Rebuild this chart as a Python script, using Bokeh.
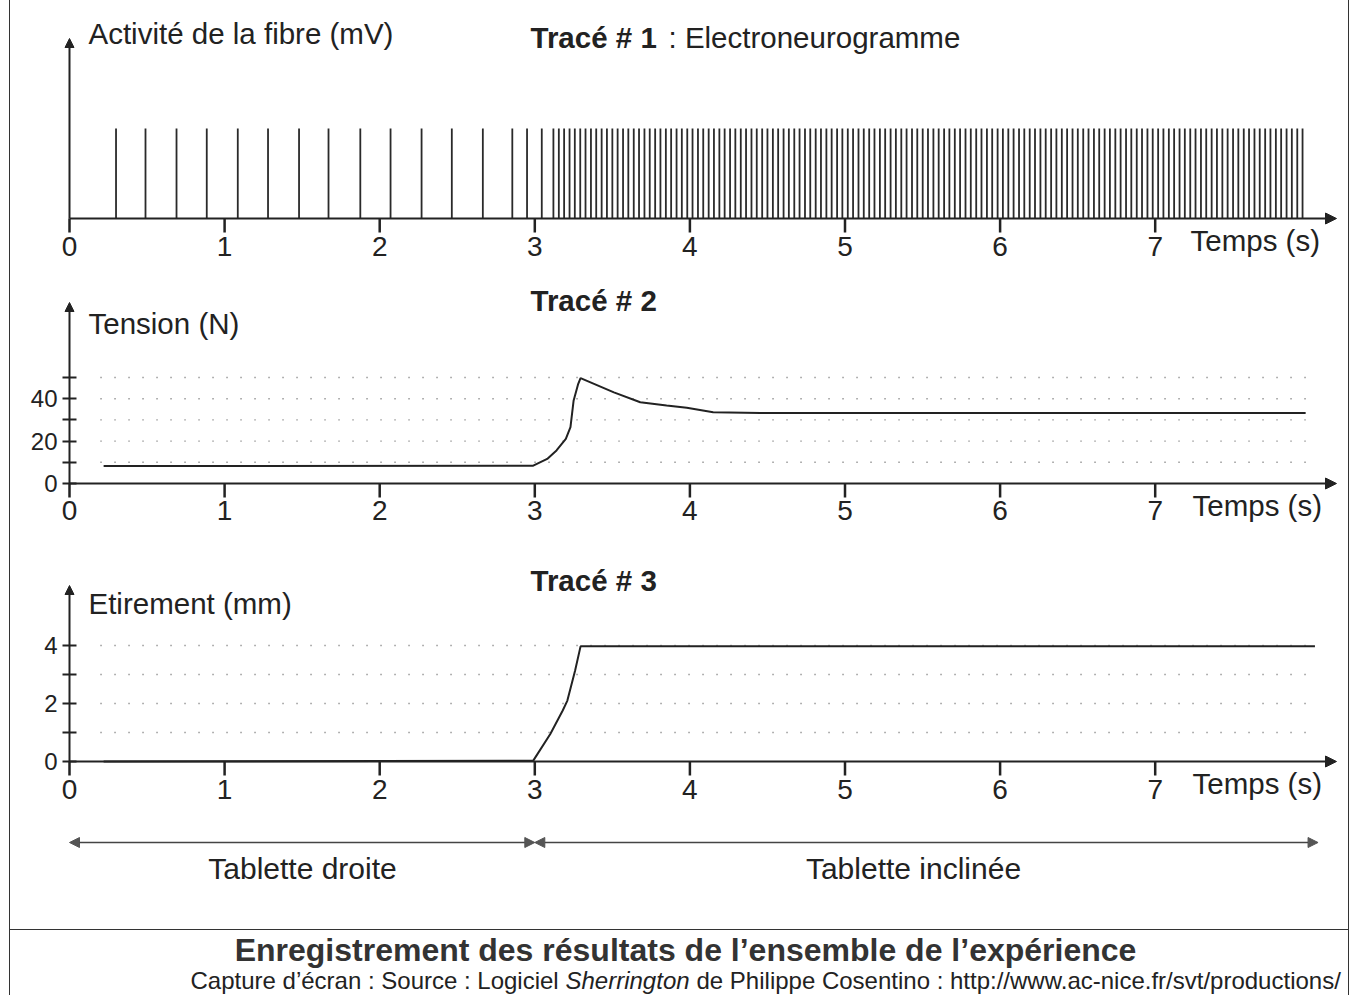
from bokeh.plotting import figure
from bokeh.models import Range1d, FixedTicker, Arrow, NormalHead, Label
from bokeh.layouts import column
from bokeh.embed import file_html
from bokeh.resources import INLINE

# ---------------- data ----------------
# Tracé 1 : spike times (s) of the fibre
spike_times_rest = [0.30, 0.49, 0.69, 0.885, 1.085, 1.28, 1.48, 1.67, 1.875,
                    2.07, 2.27, 2.465, 2.665, 2.855, 2.95, 3.045]
spike_times_stretch = [
    3.120, 3.155, 3.189, 3.224, 3.258, 3.293, 3.327, 3.362, 3.396, 3.431,
    3.465, 3.500, 3.534, 3.569, 3.603, 3.638, 3.672, 3.707, 3.741, 3.776,
    3.810, 3.845, 3.879, 3.914, 3.948, 3.983, 4.017, 4.052, 4.086, 4.121,
    4.155, 4.190, 4.224, 4.259, 4.293, 4.328, 4.362, 4.397, 4.431, 4.466,
    4.500, 4.535, 4.569, 4.604, 4.638, 4.673, 4.707, 4.742, 4.776, 4.811,
    4.845, 4.880, 4.914, 4.949, 4.983, 5.018, 5.052, 5.087, 5.121, 5.156,
    5.190, 5.225, 5.259, 5.294, 5.328, 5.363, 5.397, 5.432, 5.466, 5.501,
    5.535, 5.570, 5.604, 5.639, 5.673, 5.708, 5.742, 5.777, 5.811, 5.846,
    5.880, 5.915, 5.949, 5.984, 6.018, 6.053, 6.087, 6.122, 6.156, 6.191,
    6.225, 6.260, 6.294, 6.329, 6.363, 6.398, 6.432, 6.467, 6.501, 6.536,
    6.570, 6.605, 6.639, 6.674, 6.708, 6.743, 6.777, 6.812, 6.846, 6.881,
    6.915, 6.950, 6.984, 7.019, 7.053, 7.088, 7.122, 7.157, 7.191, 7.226,
    7.260, 7.295, 7.329, 7.364, 7.398, 7.433, 7.467, 7.502, 7.536, 7.571,
    7.605, 7.640, 7.674, 7.709, 7.743, 7.778, 7.812, 7.847, 7.881, 7.916,
    7.950]
spike_amplitude = 1.0

# Tracé 2 : muscle tension (N)
tension_t = [0.22, 2.99, 3.08, 3.14, 3.20, 3.23, 3.25, 3.28, 3.295, 3.51,
             3.68, 3.85, 3.98, 4.15, 4.455, 5.0, 6.0, 7.0, 7.97]
tension_n = [8.2, 8.4, 11.6, 15.6, 21.0, 26.6, 39.0, 47.0, 49.7, 43.0,
             38.3, 36.8, 35.7, 33.6, 33.2, 33.2, 33.2, 33.2, 33.2]

# Tracé 3 : stretch (mm)
stretch_t = [0.22, 2.99, 3.10, 3.18, 3.21, 3.26, 3.295, 5.0, 8.03]
stretch_mm = [0.0, 0.03, 0.95, 1.76, 2.1, 3.14, 3.97, 3.97, 3.97]

time_ticks = [0, 1, 2, 3, 4, 5, 6, 7]
tension_ticks = [0, 10, 20, 30, 40, 50]
tension_tick_text = {0: "0", 10: "", 20: "20", 30: "", 40: "40", 50: ""}
tension_grid = [10, 20, 30, 40, 50]
stretch_ticks = [0, 1, 2, 3, 4]
stretch_tick_text = {0: "0", 1: "", 2: "2", 3: "", 4: "4"}
stretch_grid = [1, 2, 3, 4]
grid_span_t = [0.2, 7.97]

phase_start = [0.0, 3.0]
phase_end = [3.0, 8.05]
phase_names = ["Tablette droite", "Tablette inclinée"]

# ---------------- layout helpers ----------------
INK = "#222222"
FONT = "Liberation Sans"
S = 155.1          # px per second
X0 = 69.0          # page x of t = 0
OFF_X = 10         # page x where the figures start (after left border)
W = 1338
FRAME_L, FRAME_R = 62, 1348
ARROW_TIP_X = 1336
TICK = 14
TXT = "29.5px"


def tx(ref_x):
    return (ref_x - X0) / S


def head(size=11, color=INK):
    return NormalHead(size=size, fill_color=color, line_color=color, line_width=1)


def base_fig(height, x_range, y_range, mb_bottom=0, with_y_axis=False, with_x_axis=False):
    p = figure(width=W, height=height, x_range=x_range, y_range=y_range,
               output_backend="svg", toolbar_location=None,
               min_border_left=FRAME_L - OFF_X, min_border_right=W - (FRAME_R - OFF_X),
               min_border_top=0, min_border_bottom=mb_bottom,
               x_axis_location="below" if with_x_axis else None,
               y_axis_location="left" if with_y_axis else None)
    p.grid.visible = False
    p.outline_line_color = None
    return p


def trace_fig(top, bottom, axis_y, scale, frame_bottom, label_top, with_y_axis):
    p = base_fig(bottom - top, Range1d(tx(FRAME_L), tx(FRAME_R)),
                 Range1d(-(frame_bottom - axis_y) / scale, (axis_y - top) / scale),
                 mb_bottom=bottom - frame_bottom, with_y_axis=with_y_axis, with_x_axis=True)
    ax = p.xaxis[0]
    ax.ticker = FixedTicker(ticks=time_ticks)
    ax.axis_line_color = None
    ax.major_tick_line_color = None
    ax.minor_tick_line_color = None
    ax.major_tick_in = 0
    ax.major_tick_out = 0
    ax.major_label_text_font = FONT
    ax.major_label_text_font_size = "28px"
    ax.major_label_text_color = INK
    ax.major_label_standoff = label_top - frame_bottom
    # tick marks hanging under the time axis
    n = len(time_ticks)
    p.segment(x0=time_ticks, y0=[0] * n, x1=time_ticks, y1=[-TICK / scale] * n,
              line_color=INK, line_width=2.5)
    return p


def style_y(p, ticks, texts):
    ay = p.yaxis[0]
    ay.ticker = FixedTicker(ticks=ticks)
    ay.major_label_overrides = texts
    ay.axis_line_color = None
    ay.major_tick_in = TICK
    ay.major_tick_out = 0
    ay.major_tick_line_width = 2
    ay.major_tick_line_color = INK
    ay.minor_tick_line_color = None
    ay.major_label_text_font = FONT
    ay.major_label_text_font_size = "24px"
    ay.major_label_text_color = INK
    ay.major_label_standoff = 5


def axes_arrows(p, axis_y, scale, tip_y):
    p.add_layout(Arrow(end=head(), x_start=0, y_start=0, x_end=tx(ARROW_TIP_X), y_end=0,
                       line_color=INK, line_width=2))
    p.add_layout(Arrow(end=head(9), x_start=0, y_start=0, x_end=0, y_end=(axis_y - tip_y) / scale,
                       line_color=INK, line_width=2))


def label(p, rx, ry, axis_y, scale, text, size=TXT, style="normal", align="left"):
    p.add_layout(Label(x=tx(rx), y=(axis_y - ry) / scale, text=text,
                       text_font=FONT, text_font_size=size, text_font_style=style,
                       text_color=INK, text_baseline="middle", text_align=align))


# ---------------- Tracé 1 ----------------
A1, K1 = 218, 90.0
f1 = trace_fig(0, 270, A1, K1, 258, 236, False)
all_spikes = spike_times_rest + spike_times_stretch
f1.segment(x0=all_spikes, y0=[0] * len(all_spikes), x1=all_spikes,
           y1=[spike_amplitude] * len(all_spikes), line_color="#2a2a2a", line_width=1.8)
axes_arrows(f1, A1, K1, 38)
label(f1, 88, 33, A1, K1, "Activité de la fibre (mV)")
label(f1, 530, 37, A1, K1, "Tracé # 1", style="bold")
label(f1, 668, 37, A1, K1, ": Electroneurogramme")
label(f1, 1190, 240, A1, K1, "Temps (s)")

# ---------------- Tracé 2 ----------------
A2, K2 = 483, 2.12
f2 = trace_fig(270, 545, A2, K2, 522, 500, True)
style_y(f2, tension_ticks, tension_tick_text)
f2.segment(x0=[grid_span_t[0]] * len(tension_grid), y0=tension_grid,
           x1=[grid_span_t[1]] * len(tension_grid), y1=tension_grid,
           line_color="#666666", line_width=1.4, line_dash="1 13")
f2.line(tension_t, tension_n, line_color=INK, line_width=2)
axes_arrows(f2, A2, K2, 302)
label(f2, 530, 300, A2, K2, "Tracé # 2", style="bold")
label(f2, 88, 323, A2, K2, "Tension (N)")
label(f2, 1192, 505, A2, K2, "Temps (s)")

# ---------------- Tracé 3 ----------------
A3, K3 = 761, 29.0
f3 = trace_fig(545, 815, A3, K3, 800, 779, True)
style_y(f3, stretch_ticks, stretch_tick_text)
f3.segment(x0=[grid_span_t[0]] * len(stretch_grid), y0=stretch_grid,
           x1=[grid_span_t[1]] * len(stretch_grid), y1=stretch_grid,
           line_color="#666666", line_width=1.4, line_dash="1 13")
f3.line(stretch_t, stretch_mm, line_color=INK, line_width=2)
axes_arrows(f3, A3, K3, 585)
label(f3, 530, 580, A3, K3, "Tracé # 3", style="bold")
label(f3, 88, 603, A3, K3, "Etirement (mm)")
label(f3, 1192, 783, A3, K3, "Temps (s)")

# ---------------- phases ----------------
TOP4, BOT4 = 815, 929
f4 = base_fig(BOT4 - TOP4, Range1d(tx(FRAME_L), tx(FRAME_R)), Range1d(0, BOT4 - TOP4))
for s, e in zip(phase_start, phase_end):
    f4.add_layout(Arrow(start=head(10, "#555555"), end=head(10, "#555555"),
                        x_start=s, y_start=BOT4 - 842, x_end=e, y_end=BOT4 - 842,
                        line_color="#444444", line_width=1.5))
for rx, name in zip([302, 913], phase_names):
    f4.add_layout(Label(x=tx(rx), y=BOT4 - 868, text=name, text_font=FONT,
                        text_font_size="30px", text_color=INK,
                        text_baseline="middle", text_align="center"))

# ---------------- footer ----------------
TOP5, BOT5 = 931, 997
f5 = base_fig(BOT5 - TOP5, Range1d(tx(FRAME_L), tx(FRAME_R)), Range1d(0, BOT5 - TOP5))
f5.styles = {"border-top": "1.5px solid #333"}
f5.add_layout(Label(x=tx(685), y=BOT5 - 950,
                    text="Enregistrement des résultats de l’ensemble de l’expérience",
                    text_font=FONT, text_font_size="32px", text_font_style="bold",
                    text_color="#333333", text_baseline="middle", text_align="center"))
for rx, txt, st in [(190, "Capture d’écran : Source : Logiciel", "normal"),
                    (565, "Sherrington", "italic"),
                    (696, "de Philippe Cosentino : http://www.ac-nice.fr/svt/productions/", "normal")]:
    f5.add_layout(Label(x=tx(rx), y=BOT5 - 981, text=txt, text_font=FONT,
                        text_font_size="24px", text_font_style=st, text_color=INK,
                        text_baseline="middle", text_align="left"))

page = column(f1, f2, f3, f4, f5, spacing=0,
              styles={"margin-left": "8.5px", "border-left": "1.5px solid #333",
                      "border-right": "1.5px solid #333"})

open("out.html", "w").write(file_html(page, INLINE))
